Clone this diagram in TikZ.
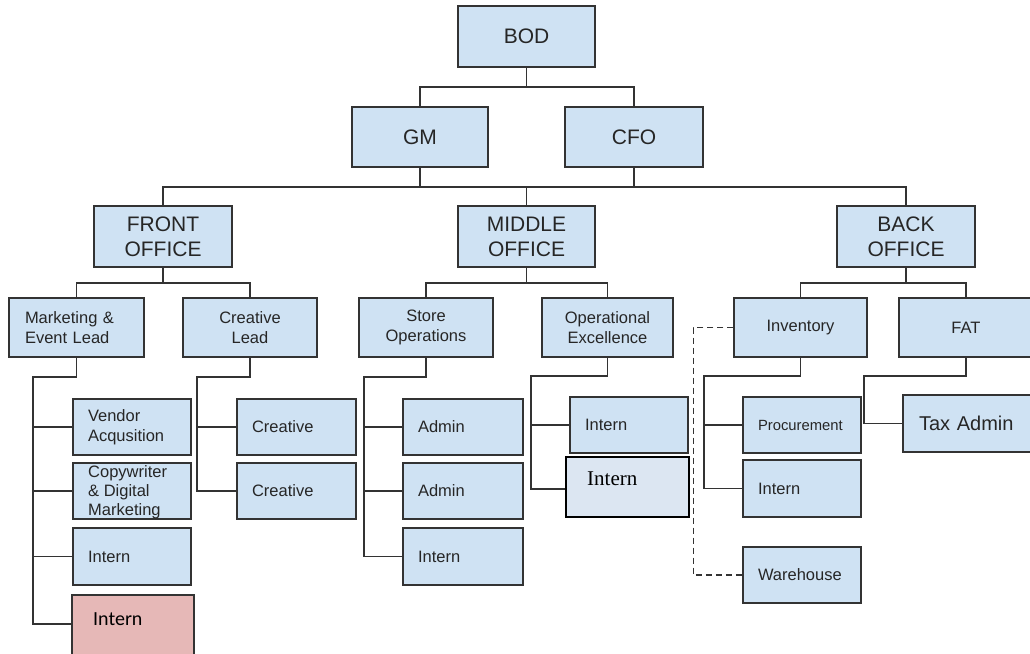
\documentclass[tikz,border=0pt]{standalone}
\usepackage{fontspec}
\setmainfont{Liberation Sans}
\newfontfamily\carlitofont{Carlito}
\newfontfamily\timesfont{Liberation Serif}
\definecolor{boxc}{HTML}{CFE2F3}
\definecolor{boxlight}{HTML}{DCE6F2}
\definecolor{pinkc}{HTML}{E6B8B7}
\definecolor{bordc}{HTML}{333333}
\definecolor{txtc}{HTML}{262626}
\begin{document}
\begin{tikzpicture}[x=1pt,y=-1pt,
  box/.style={draw=bordc, fill=boxc, line width=1.5pt, inner sep=0pt, text=txtc},
  topbox/.style={box, align=center, font=\fontsize{21}{25}\selectfont},
  midbox/.style={box, align=center, font=\fontsize{16.5}{20.5}\selectfont},
  leafbox/.style={box, align=left, inner xsep=15pt, font=\fontsize{16.5}{20.5}\selectfont},
  conn/.style={draw=bordc, line width=1.3pt},
  dconn/.style={conn, dash pattern=on 6pt off 4pt}
]
\fill[white] (0,0) rectangle (1030,653);
\useasboundingbox (0,0) rectangle (1030,653);

% level 1-2
\node[topbox, minimum width=137pt, minimum height=61pt] (BOD) at (526.5,36.5) {BOD};
\node[topbox, minimum width=136pt, minimum height=60pt] (GM) at (420,137) {GM};
\node[topbox, minimum width=138pt, minimum height=60pt] (CFO) at (634,137) {CFO};
% offices
\node[topbox, minimum width=138pt, minimum height=61pt] (FRONT) at (163,236.5) {FRONT\\OFFICE};
\node[topbox, minimum width=137pt, minimum height=61pt] (MIDDLE) at (526.5,236.5) {MIDDLE\\OFFICE};
\node[topbox, minimum width=138pt, minimum height=61pt] (BACK) at (906,236.5) {BACK\\OFFICE};
% leads
\node[leafbox, inner xsep=16pt, text width=103pt, minimum height=59pt] (MKT) at (76.5,327.5) {Marketing \&\\Event Lead};
\node[midbox, minimum width=134pt, minimum height=59pt] (CL) at (250,327.5) {Creative\\Lead};
\node[midbox, minimum width=134pt, minimum height=59pt] (SO) at (426,327.5) {Store\\Operations};
\node[midbox, minimum width=131pt, minimum height=59pt] (OE) at (607.5,327.5) {Operational\\Excellence};
\node[midbox, minimum width=133pt, minimum height=59pt] (INV) at (800.5,327.5) {Inventory};
\node[midbox, minimum width=134pt, minimum height=59pt] (FAT) at (966,327.5) {FAT};
% front office leaves
\node[leafbox, text width=88pt, minimum height=56pt] (VEN) at (132,427) {Vendor\\Acqusition};
\node[box, minimum width=118pt, minimum height=56pt] (COPY) at (132,491) {};
\node[anchor=north west, inner sep=0pt, align=left, text=txtc, font=\fontsize{16.5}{19}\selectfont] (COPYt) at (88,465) {Copywriter\\\& Digital\\Marketing};
\node[leafbox, text width=88pt, minimum height=57pt] (FINT) at (132,556.5) {Intern};
\node[box, fill=pinkc, minimum width=122pt, minimum height=75pt] (PINT) at (133,632.5) {};
\node[anchor=base west, inner sep=0pt, font=\carlitofont\fontsize{20}{24}\selectfont, text=black] (PINTt) at (93,625) {Intern};
\node[leafbox, text width=89pt, minimum height=56pt] (CR1) at (296.5,427) {Creative};
\node[leafbox, text width=89pt, minimum height=56pt] (CR2) at (296.5,491) {Creative};
% middle office leaves
\node[leafbox, text width=90pt, minimum height=56pt] (AD1) at (463,427) {Admin};
\node[leafbox, text width=90pt, minimum height=56pt] (AD2) at (463,491) {Admin};
\node[leafbox, text width=90pt, minimum height=57pt] (SINT) at (463,556.5) {Intern};
\node[leafbox, text width=88pt, minimum height=56pt] (OINT1) at (629,425) {Intern};
\node[box, draw=black, fill=boxlight, minimum width=123pt, minimum height=60pt] (OINT2) at (627.5,487) {};
\node[anchor=base west, inner sep=0pt, font=\timesfont\fontsize{21}{25}\selectfont, text=black] (OINT2t) at (587,485) {Intern};
% back office leaves
\node[leafbox, text width=88pt, minimum height=56pt, font=\fontsize{14.8}{18}\selectfont] (PROC) at (802,425) {Procurement};
\node[leafbox, text width=88pt, minimum height=57pt] (BINT) at (802,488.5) {Intern};
\node[leafbox, text width=88pt, minimum height=56pt] (WH) at (802,575) {Warehouse};
\node[leafbox, inner xsep=16pt, text width=103pt, minimum height=57pt, font=\fontsize{20}{24}\selectfont] (TAX) at (970.5,423.5) {Tax Admin};

% connectors top
\coordinate (j1) at (526.5,87);
\draw[conn] (BOD.south) -- (j1);
\draw[conn] (GM.north) |- (j1) -| (CFO.north);
\coordinate (j2) at (526.5,187);
\draw[conn] (GM.south) -- (GM.south |- j2);
\draw[conn] (CFO.south) -- (CFO.south |- j2);
\draw[conn] (FRONT.north) |- (j2) -| (BACK.north);
\draw[conn] (MIDDLE.north) -- (j2);
% offices to leads
\coordinate (f3) at (163,283);
\draw[conn] (FRONT.south) -- (f3);
\draw[conn] (MKT.north) |- (f3) -| (CL.north);
\coordinate (m3) at (526.5,283);
\draw[conn] (MIDDLE.south) -- (m3);
\draw[conn] (SO.north) |- (m3) -| (OE.north);
\coordinate (b3) at (906,283);
\draw[conn] (BACK.south) -- (b3);
\draw[conn] (INV.north) |- (b3) -| (FAT.north);
% marketing branch
\coordinate (mk1) at (33,377);
\coordinate (mkend) at (33,624);
\draw[conn] (MKT.south) |- (mk1) -- (mkend) -- (mkend -| PINT.west);
\draw[conn] (mk1 |- VEN.west) -- (VEN.west);
\draw[conn] (mk1 |- COPY.west) -- (COPY.west);
\draw[conn] (mk1 |- FINT.west) -- (FINT.west);
% creative lead branch
\coordinate (cl1) at (197,377);
\draw[conn] (CL.south) |- (cl1) |- (CR2.west);
\draw[conn] (cl1 |- CR1.west) -- (CR1.west);
% store operations branch
\coordinate (so1) at (364,377);
\draw[conn] (SO.south) |- (so1) |- (SINT.west);
\draw[conn] (so1 |- AD1.west) -- (AD1.west);
\draw[conn] (so1 |- AD2.west) -- (AD2.west);
% operational excellence branch
\coordinate (oe1) at (531,376);
\coordinate (oe2) at (531,489);
\draw[conn] (OE.south) |- (oe1) -- (oe2) -- (oe2 -| OINT2.west);
\draw[conn] (oe1 |- OINT1.west) -- (OINT1.west);
% inventory branch
\coordinate (iv1) at (704,376);
\draw[conn] (INV.south) |- (iv1) |- (BINT.west);
\draw[conn] (iv1 |- PROC.west) -- (PROC.west);
\draw[dconn] (INV.west) -- ++(-40,0) |- (WH.west);
% FAT branch
\coordinate (ft1) at (864,376);
\draw[conn] (FAT.south) |- (ft1) |- (TAX.west);
\end{tikzpicture}
\end{document}
